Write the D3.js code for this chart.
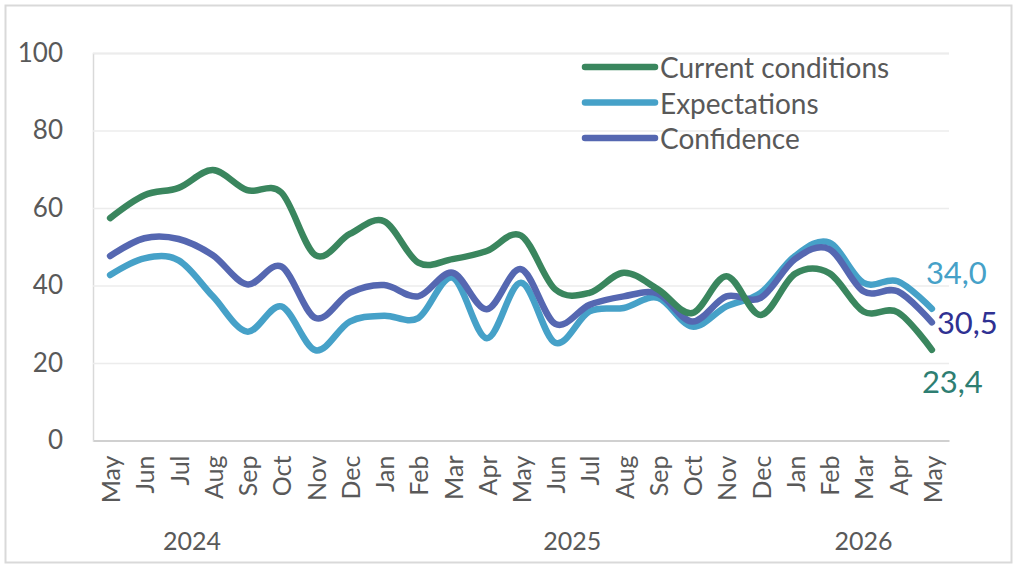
<!DOCTYPE html>
<html>
<head>
<meta charset="utf-8">
<script src="https://cdnjs.cloudflare.com/ajax/libs/d3/7.8.5/d3.min.js"></script>
<style>
  body { margin: 0; background: #fff; }
  svg text { font-family: Lato, "Open Sans", sans-serif; }
</style>
</head>
<body>
<script>
//chart size
var w = 1018;
var h = 570;

//data
var months = ["May","Jun","Jul","Aug","Sep","Oct","Nov","Dec","Jan","Feb","Mar","Apr",
              "May","Jun","Jul","Aug","Sep","Oct","Nov","Dec","Jan","Feb","Mar","Apr","May"];
var years = ["2024","2025","2026"];
var monthsPerYear = [8, 12, 5];

var current = [57.4, 63.3, 65.2, 69.8, 64.6, 64.0, 47.8, 53.3, 56.6, 45.9, 46.8, 48.9, 52.9,
               39.0, 38.1, 43.3, 39.0, 32.9, 42.4, 32.4, 43.0, 43.2, 33.3, 33.1, 23.4];
var expectations = [42.7, 47.0, 46.5, 37.2, 28.1, 34.6, 23.3, 30.7, 32.2, 31.6, 42.0, 26.4, 40.7,
                    25.2, 33.3, 34.2, 36.8, 29.4, 34.6, 38.1, 47.6, 51.1, 40.7, 41.1, 34.0];
var confidence = [47.6, 52.2, 52.0, 47.8, 40.3, 44.9, 31.6, 38.1, 40.1, 37.2, 43.3, 33.9, 44.2,
                  30.1, 35.0, 37.2, 37.9, 30.7, 37.2, 36.8, 46.8, 49.4, 38.5, 38.5, 30.5];

var yTicks = [0, 20, 40, 60, 80, 100];
var seriesNames = ["Current conditions", "Expectations", "Confidence"];
var endLabels = ["23,4", "34,0", "30,5"];

//styles per series (same order as seriesNames)
var lineColors = ["#3a865e", "#46a1c8", "#5567b1"];
var labelColors = ["#2e7e72", "#46a1c8", "#2f3192"];

var series = [current, expectations, confidence];

//plot area (not called "top": that name is taken by window.top)
var plotLeft = 93, plotRight = 949, plotTop = 53, plotBottom = 440.5;

var svg = d3.select("body")
            .append("svg")
            .attr("width", w)
            .attr("height", h);

//outer chart border
svg.append("rect")
   .attr("x", 5.5).attr("y", 5.5)
   .attr("width", w - 12).attr("height", h - 13)
   .attr("fill", "#fff")
   .attr("stroke", "#d9d9d9")
   .attr("stroke-width", 2);

//scales
var x = d3.scaleBand()
          .domain(d3.range(months.length))
          .range([plotLeft, plotRight]);
var xc = function(i) { return x(i) + x.bandwidth() / 2; };

var y = d3.scaleLinear()
          .domain([0, 100])
          .range([plotBottom, plotTop]);

//y axis with gridlines
var yAxis = svg.append("g")
   .attr("transform", "translate(" + plotLeft + ",0)")
   .call(d3.axisLeft(y).tickValues(yTicks).tickSize(-(plotRight - plotLeft)).tickPadding(30));
yAxis.select(".domain").attr("stroke", "#d9d9d9").attr("stroke-width", 1.5);
yAxis.selectAll(".tick line").attr("stroke", "#ececec").attr("stroke-width", 1.5);
yAxis.selectAll(".tick text")
     .attr("fill", "#595959")
     .style("font-size", "26px");

//x axis with month labels
var xAxis = svg.append("g")
   .attr("transform", "translate(0," + plotBottom + ")")
   .call(d3.axisBottom(x).tickSize(0).tickFormat(function(i) { return months[i]; }));
xAxis.select(".domain").attr("stroke", "#d0d0d0").attr("stroke-width", 2);
xAxis.selectAll(".tick text")
     .attr("fill", "#595959")
     .style("font-size", "25px")
     .attr("text-anchor", "end")
     .attr("dy", null)
     .attr("y", 0)
     .attr("dominant-baseline", "central")
     .attr("transform", "translate(0,15) rotate(-90)");

//year labels, centred under their group of months
var start = 0;
var yearNudge = {"2024": -38};
years.forEach(function(yr, k) {
    var mid = (xc(start) + xc(start + monthsPerYear[k] - 1)) / 2;
    svg.append("text")
       .attr("x", mid + (yearNudge[yr] || 0))
       .attr("y", 550)
       .attr("text-anchor", "middle")
       .attr("fill", "#595959")
       .style("font-size", "25px")
       .text(yr);
    start += monthsPerYear[k];
});

//smoothed lines, green drawn last so it sits on top
var line = d3.line()
             .x(function(d, i) { return xc(i); })
             .y(function(d) { return y(d); })
             .curve(d3.curveCatmullRom.alpha(0));

[1, 2, 0].forEach(function(k) {
    svg.append("path")
       .datum(series[k])
       .attr("d", line)
       .attr("fill", "none")
       .attr("stroke", lineColors[k])
       .attr("stroke-width", 6.5)
       .attr("stroke-linecap", "round")
       .attr("stroke-linejoin", "round");
});

//end value labels
var last = months.length - 1;
var endDx = [-10, -6, 5];
var endDy = [43, -25, 12];
series.forEach(function(s, k) {
    svg.append("text")
       .attr("x", xc(last) + endDx[k])
       .attr("y", y(s[last]) + endDy[k])
       .attr("fill", labelColors[k])
       .style("font-size", "31px")
       .text(endLabels[k]);
});

//legend
var legend = svg.append("g").attr("transform", "translate(585,67)");
seriesNames.forEach(function(name, k) {
    var row = legend.append("g").attr("transform", "translate(0," + (k * 35.5) + ")");
    row.append("line")
       .attr("x1", 0).attr("x2", 70)
       .attr("stroke", lineColors[k])
       .attr("stroke-width", 6.5)
       .attr("stroke-linecap", "round");
    row.append("text")
       .attr("x", 75)
       .attr("dominant-baseline", "central")
       .attr("fill", "#595959")
       .style("font-size", "28px")
       .text(name);
});
</script>
</body>
</html>
